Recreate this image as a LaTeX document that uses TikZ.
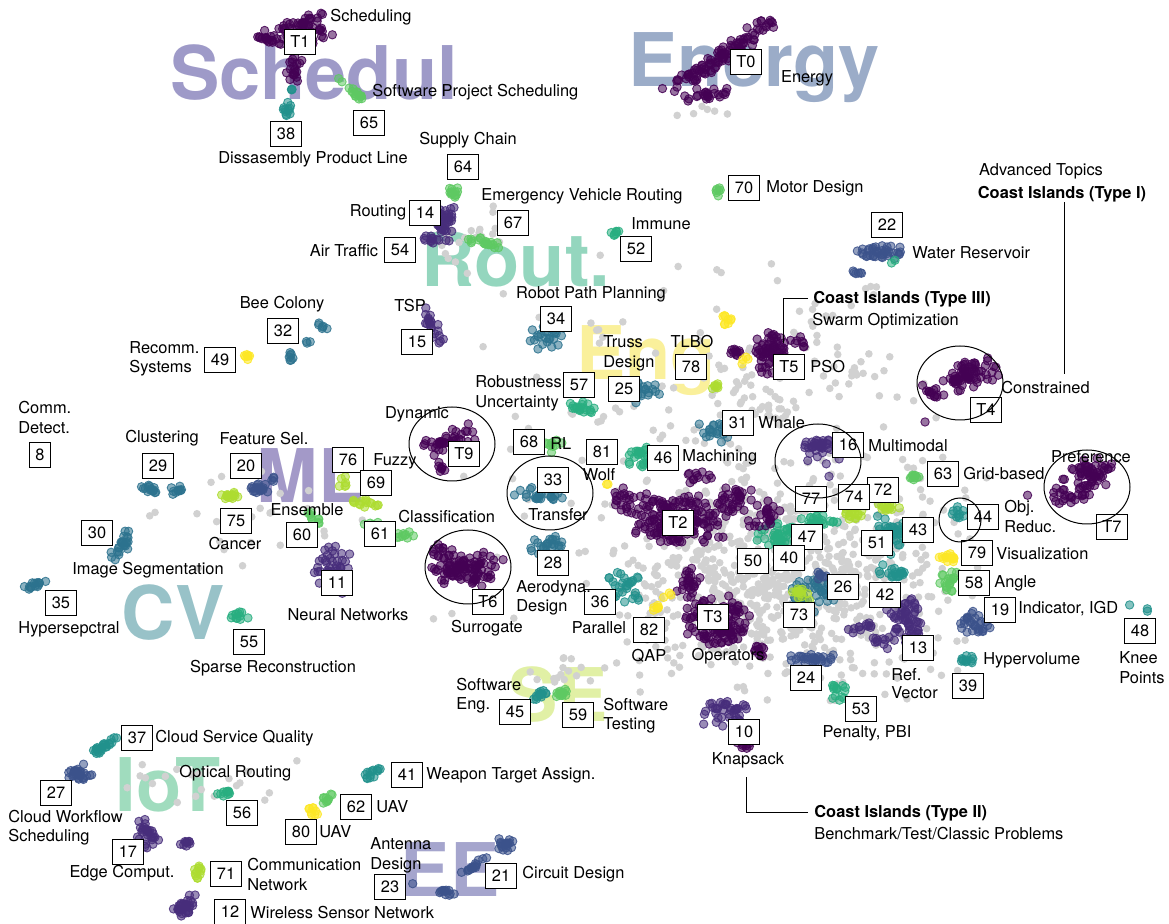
\documentclass[tikz,border=0pt]{standalone}
\usepackage{fontspec}
\setmainfont{TeX Gyre Heros}
\definecolor{v0}{RGB}{68,1,84}
\definecolor{v1}{RGB}{71,45,123}
\definecolor{v2}{RGB}{59,82,139}
\definecolor{v3}{RGB}{44,114,142}
\definecolor{v4}{RGB}{33,145,140}
\definecolor{v5}{RGB}{40,174,128}
\definecolor{v6}{RGB}{94,201,98}
\definecolor{v7}{RGB}{173,220,48}
\definecolor{v8}{RGB}{253,231,37}
\definecolor{wsch}{RGB}{158,154,200}
\definecolor{wen}{RGB}{155,172,200}
\definecolor{wrout}{RGB}{148,214,190}
\definecolor{weng}{RGB}{250,240,155}
\definecolor{wml}{RGB}{163,153,200}
\definecolor{wcv}{RGB}{152,194,200}
\definecolor{wiot}{RGB}{160,220,190}
\definecolor{wse}{RGB}{225,240,165}
\definecolor{wee}{RGB}{165,165,205}
\newcommand\lbl{\fontsize{8.2}{9.5}\selectfont}
\newcommand\bigw{\fontsize{37}{37}\selectfont\bfseries}
\newcommand\cloud[7]{%
  \foreach \k in {1,...,#6}{%
    \pgfmathsetmacro\ua{#3*(rand+rand)/2}%
    \pgfmathsetmacro\va{#4*(rand+rand)/2}%
    \path[#7] ({#1+\ua*cos(#5)-\va*sin(#5)},{#2+\ua*sin(#5)+\va*cos(#5)}) circle;
  }}
\tikzset{
  num/.style={draw,line width=.6pt,fill=white,inner xsep=3.1pt,inner ysep=3.3pt,
    text height=5.9pt,text depth=0pt,font=\lbl},
  tag/.style={inner sep=0pt,font=\lbl},
  tagw/.style={tag,anchor=west},
  isl/.style={inner sep=0pt,font=\lbl\bfseries,anchor=west},
  big/.style={anchor=base,font=\bigw},
  pt/.style={draw=#1,fill=#1,fill opacity=.55,draw opacity=.85,line width=.45pt,radius=2.1pt},
  gp/.style={fill=black!18,radius=1.9pt},
  ring/.style={line width=.5pt},
}
\begin{document}
\begin{tikzpicture}[x=0.5pt,y=-0.5pt]
\useasboundingbox (0,0) rectangle (1169,924);
\pgfmathsetseed{17}
\node[big,wsch] (wsched) at (314,100) {Schedul};
\node[big,wen] (wenergy) at (754,87) {Energy};
\node[big,wrout] (wrout) at (516,287) {Rout.};
\node[big,weng] (weng) at (646,380) {Eng};
\node[big,wml] (wml) at (310,503) {ML};
\node[big,wcv] (wcv) at (173,640) {CV};
\node[big,wiot] (wiot) at (168,812) {IoT};
\node[big,wse] (wse) at (558,722) {SE};
\node[big,wee] (wee) at (450,897) {EE};
\foreach \cx/\cy/\rx/\ry/\an/\nn in {790/570/200/140/0/600, 760/590/130/90/0/200, 700/450/280/230/0/160,
  470/235/50/30/0/25, 250/520/150/60/0/25, 200/790/150/40/0/20, 700/110/30/10/0/6, 560/670/40/25/0/15,
  870/290/8/10/0/4, 760/400/60/40/0/35, 850/380/50/30/0/18, 810/320/30/25/0/10}
  {\cloud{\cx}{\cy}{\rx}{\ry}{\an}{\nn}{gp}}
\foreach \cx/\cy/\rx/\ry/\an/\nn/\cc in {
  305/30/30/18/0/55/v0, 268/38/18/7/10/20/v0, 295/68/10/16/0/18/v0,
  287/110/7/9/0/12/v4, 292/90/4/3/0/3/v4, 356/93/12/4/35/14/v6, 340/80/3/3/0/2/v6,
  715/60/62/10/-33/90/v0, 705/95/35/12/0/25/v0, 765/25/10/7/0/12/v0,
  452/193/10/6/0/14/v6, 445/222/14/20/0/40/v1, 432/240/9/6/0/10/v1, 487/243/27/5/12/20/v6,
  718/193/4/9/0/7/v6, 615/233/5/4/0/7/v5,
  880/253/27/9/0/40/v2, 858/273/8/5/0/6/v2, 893/262/3/3/0/2/v5,
  968/375/32/16/-25/70/v0, 932/392/14/8/15/14/v0, 925/422/1/1/0/1/v0,
  772/352/20/26/0/70/v0, 735/352/7/7/0/10/v0, 800/345/15/10/0/8/v0,
  727/320/6/6/0/9/v8, 745/360/6/5/0/4/v8, 718/387/8/4/0/7/v7,
  433/328/24/7/62/22/v1, 547/338/22/15/0/24/v3, 580/408/18/8/0/20/v5, 642/392/20/12/0/25/v3,
  713/432/20/12/0/22/v3, 822/445/22/9/0/35/v1, 812/458/32/25/0/8/v1,
  448/440/28/11/-18/40/v0, 445/467/11/5/0/7/v0, 546/497/24/5/0/18/v3, 540/492/30/12/0/8/v3,
  553/446/12/7/0/10/v6, 606/484/3/3/0/2/v8, 640/455/14/15/0/25/v5,
  680/520/55/28/0/200/v0, 622/500/15/15/0/20/v0, 735/500/22/18/0/30/v0, 700/475/20/10/0/12/v0,
  717/622/35/28/0/130/v0, 690/585/14/20/0/25/v0, 760/650/10/8/0/10/v0,
  626/588/22/20/0/30/v4, 547/545/25/11/0/25/v3, 466/568/38/20/0/110/v0, 440/550/10/8/0/8/v0,
  657/608/6/4/0/7/v8, 668/596/5/4/0/3/v8,
  778/535/22/15/0/40/v5, 818/522/22/8/0/25/v5, 893/535/22/20/0/45/v4, 818/593/32/20/0/45/v3,
  895/573/18/10/0/22/v4, 820/575/8/5/0/8/v2,
  852/513/12/7/0/18/v7, 887/508/14/5/0/14/v7, 801/594/12/7/0/14/v7,
  950/558/12/7/0/14/v8, 948/582/12/14/0/20/v6, 765/515/25/15/0/25/v0, 860/628/15/8/0/12/v1,
  905/620/22/28/0/60/v1, 882/643/12/7/0/10/v1, 812/658/25/8/0/30/v2, 838/691/12/11/0/15/v5,
  975/623/20/14/0/30/v2, 965/660/12/5/0/12/v4, 1130/605/1/1/0/1/v4, 1146/609/3/3/0/2/v4,
  958/515/8/8/-30/10/v4, 915/478/8/5/0/10/v6, 1027/495/1/1/0/1/v0,
  1090/478/30/20/-30/70/v0, 1063/495/14/9/0/12/v0, 727/713/25/14/0/40/v1, 745/745/10/7/0/10/v0,
  540/695/10/5/-30/14/v4, 562/693/10/5/-20/14/v6,
  322/325/8/5/0/6/v3, 291/357/5/7/0/7/v3, 307/342/4/4/0/3/v3, 247/357/6/3/0/7/v8,
  150/490/12/6/0/15/v3, 178/490/10/5/0/10/v3, 258/489/14/7/0/20/v2, 273/478/5/5/0/4/v2,
  232/495/12/5/0/15/v7, 312/518/9/8/0/10/v6, 344/480/5/9/0/6/v7, 365/503/18/5/10/15/v7,
  375/527/12/5/0/12/v6, 405/536/10/6/0/10/v6, 335/570/25/25/0/50/v1,
  122/545/18/8/-50/25/v3, 35/585/14/4/-15/15/v3, 240/615/10/6/0/12/v5,
  105/745/16/4/-38/25/v4, 80/773/14/9/0/30/v2, 148/833/14/16/0/30/v1, 187/842/9/5/0/10/v1,
  223/794/11/4/-20/10/v5, 198/873/5/10/0/12/v7, 186/906/18/10/-30/35/v1,
  372/774/14/5/-20/14/v4, 327/799/9/4/-40/10/v6, 312/812/6/5/-30/9/v8,
  505/845/10/10/-40/20/v2, 473/866/30/3/-37/15/v2, 445/892/10/5/0/12/v2, 412/884/1/1/0/1/v2}
  {\cloud{\cx}{\cy}{\rx}{\ry}{\an}{\nn}{pt=\cc}}
\node[num] (bT1) at (300,42) {T1};
\node[num] (b38) at (286,134) {38};
\node[num] (b65) at (369,123) {65};
\node[num] (bT0) at (746,62) {T0};
\node[num] (b64) at (463,167) {64};
\node[num] (b14) at (425,213) {14};
\node[num] (b54) at (400,250) {54};
\node[num] (b67) at (513,223) {67};
\node[num] (b70) at (744,188) {70};
\node[num] (b52) at (636,249) {52};
\node[num] (b22) at (887,225) {22};
\node[num] (b32) at (283,331) {32};
\node[num] (b15) at (417,342) {15};
\node[num] (b34) at (556,319) {34};
\node[num] (b49) at (220,360) {49};
\node[num] (b78) at (691,367) {78};
\node[num] (bT5) at (789,367) {T5};
\node[num] (b57) at (579,385) {57};
\node[num] (b25) at (624,389) {25};
\node[num] (bT4) at (986,410) {T4};
\node[num] (b31) at (738,423) {31};
\node[num] (b8) at (40,455) {8};
\node[num] (b29) at (158,466) {29};
\node[num] (b20) at (246,466) {20};
\node[num] (b76) at (348,460) {76};
\node[num] (b69) at (376,483) {69};
\node[num] (b68) at (529,442) {68};
\node[num] (b81) at (602,452) {81};
\node[num] (b46) at (663,458) {46};
\node[num] (b16) at (848,445) {16};
\node[num] (b63) at (943,474) {63};
\node[num] (bT9) at (464,454) {T9};
\node[num] (b33) at (553,480) {33};
\node[num] (b72) at (883,490) {72};
\node[num] (b74) at (854,497) {74};
\node[num] (b77) at (811,499) {77};
\node[num] (b44) at (983,517) {44};
\node[num] (bT7) at (1112,527) {T7};
\node[num] (b75) at (236,521) {75};
\node[num] (b60) at (302,535) {60};
\node[num] (b61) at (380,534) {61};
\node[num] (bT2) at (678,523) {T2};
\node[num] (b43) at (918,530) {43};
\node[num] (b51) at (877,543) {51};
\node[num] (b47) at (807,537) {47};
\node[num] (b40) at (789,558) {40};
\node[num] (b50) at (753,561) {50};
\node[num] (b30) at (97,533) {30};
\node[num] (b28) at (553,563) {28};
\node[num] (b79) at (977,553) {79};
\node[num] (b11) at (337,583) {11};
\node[num] (b58) at (974,583) {58};
\node[num] (b26) at (843,587) {26};
\node[num] (b42) at (885,595) {42};
\node[num] (b36) at (600,602) {36};
\node[num] (bT6) at (488,602) {T6};
\node[num] (b35) at (61,603) {35};
\node[num] (b19) at (1000,610) {19};
\node[num] (b73) at (799,615) {73};
\node[num] (bT3) at (713,617) {T3};
\node[num] (b82) at (649,630) {82};
\node[num] (b48) at (1140,631) {48};
\node[num] (b55) at (249,642) {55};
\node[num] (b13) at (918,648) {13};
\node[num] (b24) at (806,678) {24};
\node[num] (b39) at (968,686) {39};
\node[num] (b53) at (861,709) {53};
\node[num] (b45) at (515,712) {45};
\node[num] (b59) at (578,715) {59};
\node[num] (b10) at (744,732) {10};
\node[num] (b37) at (137,738) {37};
\node[num] (b41) at (407,775) {41};
\node[num] (b27) at (56,793) {27};
\node[num] (b62) at (356,807) {62};
\node[num] (b56) at (242,813) {56};
\node[num] (b80) at (301,832) {80};
\node[num] (b17) at (128,852) {17};
\node[num] (b71) at (226,874) {71};
\node[num] (b21) at (501,876) {21};
\node[num] (b23) at (390,887) {23};
\node[num] (b12) at (230,912) {12};
\node[tag] (tsched) at (371,17) {Scheduling};
\node[tagw] (tsps) at (372,92) {Software Project Scheduling};
\node[tag] (tdpl) at (313,159) {Dissasembly Product Line};
\node[tag] (tenergy) at (807,78) {Energy};
\node[tag] (tsupply) at (468,140) {Supply Chain};
\node[tag] (temerg) at (582,196) {Emergency Vehicle Routing};
\node[tag] (trouting) at (378,212) {Routing};
\node[tag] (tair) at (344,251) {Air Traffic};
\node[tagw] (tmotor) at (766,188) {Motor Design};
\node[tag] (timmune) at (661,224) {Immune};
\node[tagw] (twater) at (912,253) {Water Reservoir};
\node[tag] (tadv) at (1041,171) {Advanced Topics};
\node[isl,anchor=center] (ti) at (1062,194) {Coast Islands (Type I)};
\node[tag] (trobot) at (591,294) {Robot Path Planning};
\node[tag] (ttsp) at (410,306) {TSP};
\node[tag] (tbee) at (282,304) {Bee Colony};
\node[isl] (tiii) at (813,299) {Coast Islands (Type III)};
\node[tagw] (tswarm) at (812,321) {Swarm Optimization};
\node[tagw] (trec) at (129,348) {Recomm.};
\node[tagw] (tsys) at (129,368) {Systems};
\node[tag] (ttlbo) at (692,342) {TLBO};
\node[tagw] (ttruss) at (603,342) {Truss};
\node[tagw] (tdes) at (603,363) {Design};
\node[tagw] (tpso) at (810,367) {PSO};
\node[tagw] (trob) at (475,382) {Robustness};
\node[tagw] (tunc) at (475,403) {Uncertainty};
\node[tagw] (tcons) at (1001,388) {Constrained};
\node[tagw] (tcomm) at (18,408) {Comm.};
\node[tagw] (tdet) at (18,428) {Detect.};
\node[tag] (tdyn) at (417,414) {Dynamic};
\node[tagw] (twhale) at (758,423) {Whale};
\node[tag] (tclus) at (162,438) {Clustering};
\node[tag] (tfeat) at (264,439) {Feature Sel.};
\node[tagw] (tmulti) at (868,446) {Multimodal};
\node[tagw] (trl) at (550,444) {RL};
\node[tagw] (tmach) at (682,457) {Machining};
\node[tagw] (tfuzzy) at (373,461) {Fuzzy};
\node[tag] (tpref) at (1091,457) {Preference};
\node[tagw] (tgrid) at (963,474) {Grid-based};
\node[tag] (twolf) at (599,475) {Wolf};
\node[tagw] (tobj) at (1004,508) {Obj.};
\node[tagw] (tred) at (1004,527) {Reduc.};
\node[tag] (tens) at (307,510) {Ensemble};
\node[tag] (ttrans) at (558,515) {Transfer};
\node[tagw] (tclass) at (398,517) {Classification};
\node[tag] (tcancer) at (235,544) {Cancer};
\node[tagw] (tvis) at (996,554) {Visualization};
\node[tag] (timg) at (148,570) {Image Segmentation};
\node[tagw] (tangle) at (994,583) {Angle};
\node[tagw] (taero) at (516,588) {Aerodyna.};
\node[tagw] (taerod) at (516,607) {Design};
\node[tagw] (tind) at (1018,609) {Indicator, IGD};
\node[tag] (tnn) at (348,615) {Neural Networks};
\node[tag] (tsurr) at (487,628) {Surrogate};
\node[tag] (tpar) at (599,628) {Parallel};
\node[tag] (thyp) at (69,629) {Hypersepctral};
\node[tag] (tqap) at (649,656) {QAP};
\node[tag] (topr) at (728,656) {Operators};
\node[tagw] (tknee) at (1119,658) {Knee};
\node[tagw] (tpts) at (1119,678) {Points};
\node[tagw] (thv) at (983,660) {Hypervolume};
\node[tag] (tsparse) at (273,668) {Sparse Reconstruction};
\node[tagw] (tref) at (891,675) {Ref.};
\node[tagw] (tvec) at (891,693) {Vector};
\node[tagw] (tswe) at (456,685) {Software};
\node[tagw] (teng) at (456,705) {Eng.};
\node[tagw] (tswt) at (603,705) {Software};
\node[tagw] (ttest) at (603,725) {Testing};
\node[tag] (tpen) at (867,733) {Penalty, PBI};
\node[tagw] (tcsq) at (155,738) {Cloud Service Quality};
\node[tag] (tknap) at (748,760) {Knapsack};
\node[tagw] (topt) at (179,773) {Optical Routing};
\node[tagw] (twta) at (426,775) {Weapon Target Assign.};
\node[tagw] (tuava) at (376,807) {UAV};
\node[tagw] (tuavb) at (319,832) {UAV};
\node[isl] (tii) at (814,813) {Coast Islands (Type II)};
\node[tagw] (tbench) at (814,834) {Benchmark/Test/Classic Problems};
\node[tagw] (tcwf) at (8,817) {Cloud Workflow};
\node[tagw] (tcws) at (8,837) {Scheduling};
\node[tagw] (tant) at (370,844) {Antenna};
\node[tagw] (tantd) at (370,865) {Design};
\node[tagw] (tcom) at (247,865) {Communication};
\node[tagw] (tnet) at (247,885) {Network};
\node[tag] (tedge) at (122,873) {Edge Comput.};
\node[tagw] (tcirc) at (522,874) {Circuit Design};
\node[tagw] (twsn) at (250,913) {Wireless Sensor Network};
\coordinate (tiE) at (1064,374);
\coordinate (tiiE) at (746,777);
\coordinate (tiiiE) at (783,343);
\draw[ring] (ti.south -| tiE) -- (tiE);
\draw[ring] ([xshift=-3pt]tii.west) -| (tiiE);
\draw[ring] ([xshift=-2.5pt]tiii.west) -| (tiiiE);
\draw[ring] (960,383) ellipse[x radius=21.5pt,y radius=18.5pt];
\draw[ring] (818,461) ellipse[x radius=21.5pt,y radius=18.5pt];
\draw[ring] (1087,487) ellipse[x radius=21.5pt,y radius=18.5pt];
\draw[ring] (960,520) ellipse[x radius=10.5pt,y radius=11pt];
\draw[ring] (452,444) ellipse[x radius=21.5pt,y radius=18.5pt];
\draw[ring] (550,493) ellipse[x radius=21.5pt,y radius=18.5pt];
\draw[ring] (468,567) ellipse[x radius=21.5pt,y radius=18.5pt];
\end{tikzpicture}
\end{document}
